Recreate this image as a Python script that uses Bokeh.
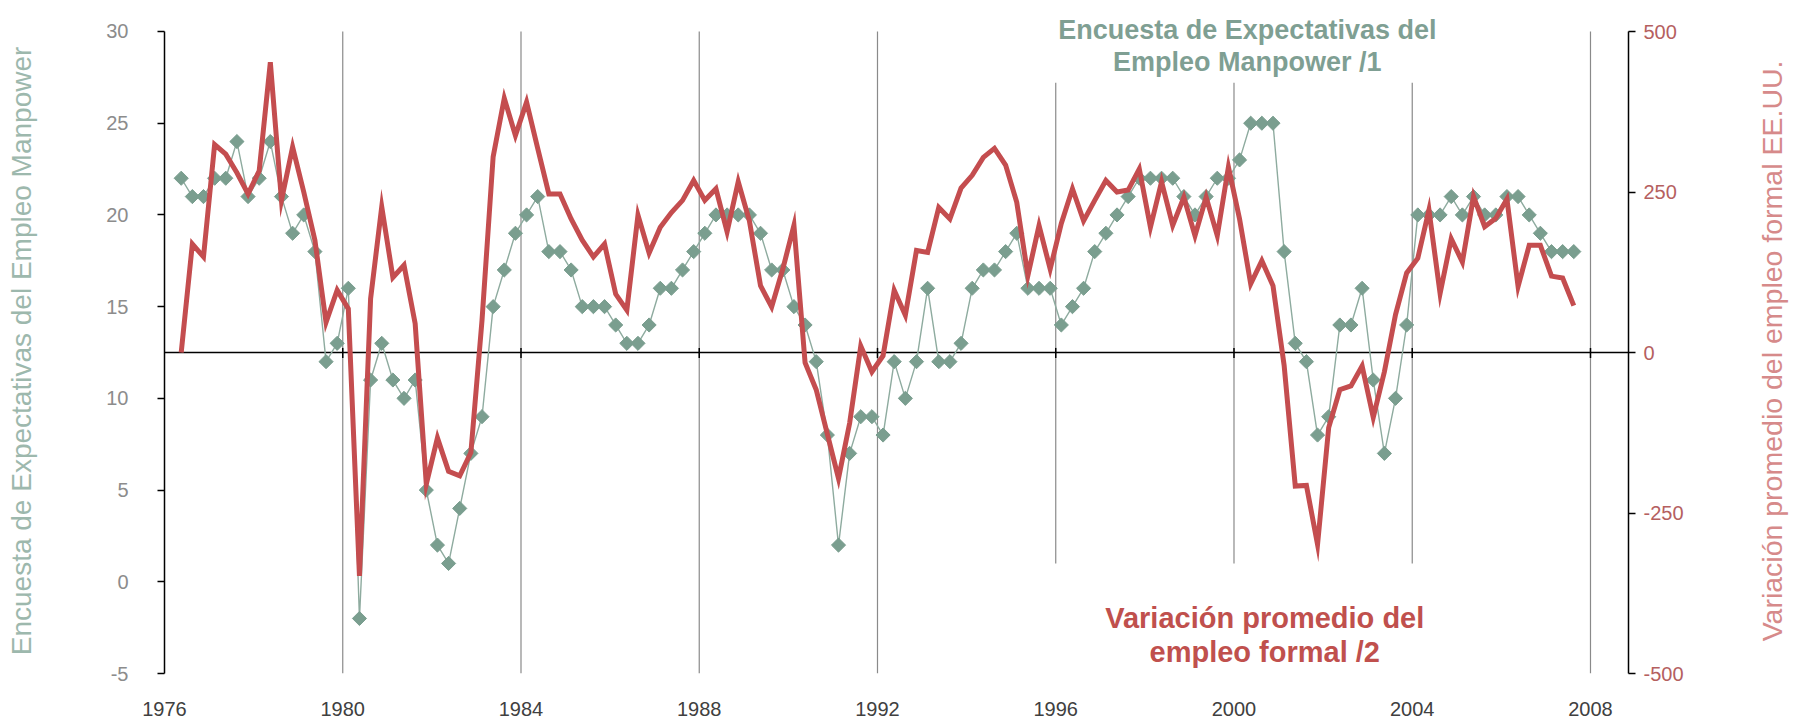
import numpy as np
import pandas as pd
from bokeh.plotting import figure
from bokeh.layouts import row
from bokeh.models import Range1d, LinearAxis, FixedTicker, Label
from bokeh.core.properties import value
from bokeh.embed import file_html
from bokeh.resources import INLINE

# Quarterly observations, 1976Q2 .. 2007Q3
quarters = pd.period_range("1976Q2", "2007Q3", freq="Q")

manpower = [22, 21, 21, 22, 22, 24, 21, 22, 24, 21,
            19, 20, 18, 12, 13, 16, -2, 11, 13, 11,
            10, 11, 5, 2, 1, 4, 7, 9, 15, 17,
            19, 20, 21, 18, 18, 17, 15, 15, 15, 14,
            13, 13, 14, 16, 16, 17, 18, 19, 20, 20,
            20, 20, 19, 17, 17, 15, 14, 12, 8, 2,
            7, 9, 9, 8, 12, 10, 12, 16, 12, 12,
            13, 16, 17, 17, 18, 19, 16, 16, 16, 14,
            15, 16, 18, 19, 20, 21, 22, 22, 22, 22,
            21, 20, 21, 22, 22, 23, 25, 25, 25, 18,
            13, 12, 8, 9, 14, 14, 16, 11, 7, 10,
            14, 20, 20, 20, 21, 20, 21, 20, 20, 21,
            21, 20, 19, 18, 18, 18]

empleo = [0, 169, 149, 324, 309, 280, 247, 283, 452, 237,
          320, 250, 175, 47, 97, 68, -348, 84, 227, 117,
          136, 45, -205, -133, -185, -192, -156, 50, 305, 396,
          338, 390, 318, 247, 247, 208, 175, 149, 169, 91,
          66, 214, 155, 195, 218, 237, 268, 237, 255, 188,
          266, 205, 104, 71, 130, 198, -16, -58, -127, -196,
          -110, 10, -30, -5, 97, 58, 159, 156, 226, 208,
          256, 276, 304, 318, 292, 234, 120, 198, 130, 201,
          255, 205, 237, 268, 250, 253, 286, 195, 266, 198,
          242, 182, 242, 182, 289, 208, 107, 143, 104, -20,
          -208, -207, -299, -117, -58, -52, -21, -101, -30, 59,
          124, 147, 222, 92, 177, 141, 243, 196, 209, 239,
          103, 167, 167, 119, 116, 73]

year_ticks = [1976, 1980, 1984, 1988, 1992, 1996, 2000, 2004, 2008]
left_ticks = [-5, 0, 5, 10, 15, 20, 25, 30]
right_ticks = [-500, -250, 0, 250, 500]
long_grid_years = [1980, 1984, 1988, 1992, 2008]
short_grid_years = [1996, 2000, 2004]

left_title = "Encuesta de Expectativas del Empleo Manpower"
right_title = "Variación promedio del empleo formal EE.UU."

x = [q.year + (q.quarter - 1) / 4 + 0.125 for q in quarters]

GREEN = "#7a9e8f"
RED = "#c44d4f"
H = 724

# frame reaches the top edge so the annotations are not clipped;
# axes are bounded to their visible scales
p = figure(width=1700, height=H, x_range=Range1d(1976, 2008.853),
           y_range=Range1d(-5, 31.69), output_backend="svg", toolbar_location=None,
           min_border_left=120, min_border_right=116, min_border_top=0,
           min_border_bottom=51)
p.extra_y_ranges = {"right": Range1d(-500, 548.3)}
p.outline_line_color = None
p.xgrid.visible = False
p.ygrid.visible = False
p.background_fill_color = "white"
p.border_fill_color = "white"

# left axis
ya = p.yaxis[0]
ya.ticker = FixedTicker(ticks=left_ticks)
ya.bounds = (-5, 30)
ya.major_label_overrides = {-5: "-5"}
ya.axis_line_color = "black"
ya.axis_line_width = 1.5
ya.major_tick_line_color = "black"
ya.major_tick_line_width = 1.5
ya.major_tick_out = 7
ya.major_tick_in = 0
ya.minor_tick_line_color = None
ya.major_label_standoff = 29
ya.major_label_text_font = "Liberation Sans"
ya.major_label_text_font_size = "20px"
ya.major_label_text_color = "#8c8c8c"

# right axis
ra = LinearAxis(y_range_name="right", ticker=FixedTicker(ticks=right_ticks))
ra.bounds = (-500, 500)
ra.major_label_overrides = {-250: "-250", -500: "-500"}
ra.axis_line_color = "black"
ra.axis_line_width = 1.5
ra.major_tick_line_color = "black"
ra.major_tick_line_width = 1.5
ra.major_tick_out = 7
ra.major_tick_in = 0
ra.minor_tick_line_color = None
ra.major_label_standoff = 8
ra.major_label_text_font = "Liberation Sans"
ra.major_label_text_font_size = "20px"
ra.major_label_text_color = "#b5605f"
p.add_layout(ra, "right")

# bottom axis: labels only
xa = p.xaxis[0]
xa.ticker = FixedTicker(ticks=year_ticks)
xa.axis_line_color = None
xa.major_tick_line_color = None
xa.minor_tick_line_color = None
xa.major_tick_out = 0
xa.major_tick_in = 0
xa.major_label_standoff = 28
xa.major_label_text_font = "Liberation Sans"
xa.major_label_text_font_size = "20px"
xa.major_label_text_color = "#404040"

# vertical reference lines
p.segment(x0=long_grid_years, x1=long_grid_years, y0=-5, y1=30,
          line_color="#8a8a8a", line_width=1.2)
p.segment(x0=short_grid_years, x1=short_grid_years, y0=1.0, y1=27.2,
          line_color="#8a8a8a", line_width=1.2)

# horizontal line at right-axis zero with tick marks
p.segment(x0=1976, x1=2008.853, y0=12.5, y1=12.5, line_color="black", line_width=1.5)
p.segment(x0=year_ticks[1:], x1=year_ticks[1:], y0=12.2, y1=12.75,
          line_color="black", line_width=1.5)

# series
p.line(x, manpower, line_color="#8eab9f", line_width=1.4)
p.scatter(x, manpower, marker="square", angle=np.pi / 4, size=10,
          fill_color=GREEN, line_color=GREEN)
p.line(x, empleo, y_range_name="right", line_color=RED, line_width=5,
       line_join="miter")

# annotations
for txt, yy in [("Encuesta de Expectativas del", 30.055), ("Empleo Manpower /1", 28.31)]:
    p.add_layout(Label(x=2000.30, y=yy, text=txt, text_align="center",
                       text_baseline="alphabetic", text_font="Liberation Sans",
                       text_font_size="27px", text_font_style="bold",
                       text_color="#7f9f93"))
for txt, yy in [("Variación promedio del", -2.0), ("empleo formal /2", -3.855)]:
    p.add_layout(Label(x=2000.69, y=yy, text=txt, text_align="center",
                       text_baseline="alphabetic", text_font="Liberation Sans",
                       text_font_size="29px", text_font_style="bold",
                       text_color="#c0504d"))


def title_strip(width, tx, ty, text, color, size):
    s = figure(width=width, height=H, x_range=Range1d(0, width), y_range=Range1d(0, H),
               output_backend="svg", toolbar_location=None, min_border=0)
    s.axis.visible = False
    s.grid.visible = False
    s.outline_line_color = None
    s.background_fill_color = "white"
    s.border_fill_color = "white"
    s.text(x=[tx], y=[ty], text=[text], angle=np.pi / 2,
           text_align="center", text_baseline="middle",
           text_font=value("Liberation Sans"), text_font_size=size,
           text_color=color)
    return s


left_strip = title_strip(44, 21, H - 377, left_title, "#9db8ad", "28px")
right_strip = title_strip(50, 27, H - 377, right_title, "#d68a8a", "28.5px")

layout = row(left_strip, p, right_strip)
open("out.html", "w").write(file_html(layout, INLINE))
